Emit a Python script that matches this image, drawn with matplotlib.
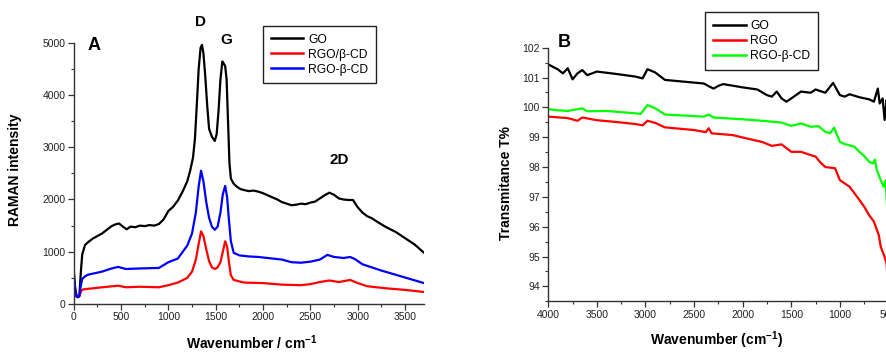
import matplotlib
matplotlib.use('Agg')
import matplotlib.pyplot as plt
from matplotlib.ticker import MultipleLocator

plt.rcParams['font.family'] = ['Liberation Sans', 'DejaVu Sans']
plt.rcParams['mathtext.fontset'] = 'custom'
plt.rcParams['mathtext.rm'] = 'Liberation Sans'
plt.rcParams['mathtext.bf'] = 'Liberation Sans:bold'

# Raman spectra (panel A)
go_raman_x = [0, 15, 30, 45, 60, 75, 90, 120, 150, 200, 250, 300, 350, 400, 450, 480, 520, 560,
              600, 650, 700, 750, 800, 850, 900, 950, 1000, 1050, 1100, 1150, 1200, 1230, 1260,
              1280, 1300, 1320, 1340, 1355, 1370, 1390, 1410, 1430, 1460, 1490, 1510, 1530, 1550,
              1570, 1585, 1600, 1615, 1630, 1645, 1660, 1690, 1720, 1760, 1800, 1850, 1900, 1950,
              2000, 2050, 2100, 2150, 2200, 2250, 2300, 2350, 2400, 2450, 2500, 2550, 2600, 2650,
              2700, 2750, 2800, 2850, 2900, 2950, 3000, 3050, 3100, 3150, 3200, 3300, 3400, 3500,
              3600, 3700]
go_raman_y = [650, 300, 150, 140, 160, 600, 950, 1130, 1180, 1250, 1300, 1350, 1420, 1490, 1530,
              1540, 1480, 1430, 1480, 1470, 1500, 1490, 1510, 1500, 1530, 1620, 1780, 1860, 1980,
              2150, 2350, 2550, 2800, 3150, 3800, 4500, 4900, 4960, 4800, 4350, 3800, 3350, 3200,
              3120, 3250, 3700, 4300, 4640, 4600, 4550, 4300, 3500, 2700, 2400, 2300, 2250, 2200,
              2180, 2160, 2170, 2150, 2120, 2080, 2040, 2000, 1950, 1920, 1890, 1900, 1920, 1910,
              1940, 1960, 2020, 2080, 2130, 2090, 2020, 2000, 1990, 1990, 1850, 1750, 1680, 1640,
              1580, 1470, 1380, 1260, 1140, 980]

rgo_cd_x = [0, 15, 30, 45, 60, 80, 100, 200, 300, 470, 550, 700, 900, 1000, 1100, 1200, 1250,
            1290, 1320, 1345, 1370, 1400, 1430, 1460, 1490, 1520, 1550, 1575, 1600, 1620, 1640,
            1660, 1690, 1800, 2000, 2200, 2400, 2500, 2600, 2700, 2800, 2920, 3000, 3100, 3300,
            3500, 3700]
rgo_cd_y = [450, 250, 140, 130, 150, 250, 280, 300, 320, 350, 320, 330, 320, 360, 410, 500, 620,
            850, 1150, 1390, 1300, 1050, 820, 700, 670, 700, 800, 1000, 1200, 1100, 800, 550, 460,
            410, 400, 370, 360, 380, 420, 450, 420, 460, 400, 340, 300, 270, 230]

rgo_b_cd_x = [0, 15, 30, 45, 60, 75, 90, 120, 150, 200, 300, 400, 470, 550, 700, 900, 1000, 1100,
              1200, 1250, 1290, 1320, 1345, 1370, 1400, 1430, 1460, 1490, 1520, 1550, 1575, 1600,
              1620, 1640, 1660, 1690, 1750, 1850, 1950, 2050, 2200, 2300, 2400, 2500, 2600, 2680,
              2750, 2850, 2920, 2970, 3050, 3150, 3250, 3400, 3550, 3700]
rgo_b_cd_y = [600, 300, 140, 130, 150, 350, 480, 530, 560, 580, 620, 680, 710, 670, 680, 690, 800,
              870, 1120, 1350, 1750, 2250, 2550, 2350, 1950, 1650, 1480, 1420, 1480, 1750, 2100,
              2260, 2050, 1600, 1200, 980, 930, 910, 900, 880, 850, 800, 790, 810, 850, 940, 900,
              880, 900, 860, 760, 700, 640, 560, 480, 400]

# FTIR spectra (panel B)
go_ftir_x = [4000, 3900, 3850, 3800, 3750, 3700, 3650, 3600, 3500, 3300, 3100, 3030, 2980, 2900,
             2800, 2600, 2400, 2350, 2300, 2250, 2200, 2000, 1850, 1750, 1700, 1650, 1600, 1550,
             1500, 1400, 1300, 1250, 1150, 1070, 1000, 950, 900, 800, 700, 650, 610, 590, 560,
             540, 520, 500]
go_ftir_y = [101.44, 101.27, 101.14, 101.31, 100.94, 101.14, 101.25, 101.08, 101.2, 101.12, 101.03,
             100.97, 101.28, 101.17, 100.92, 100.86, 100.8, 100.71, 100.63, 100.72, 100.78, 100.67,
             100.6, 100.41, 100.36, 100.53, 100.3, 100.19, 100.3, 100.53, 100.49, 100.6, 100.49,
             100.82, 100.41, 100.36, 100.44, 100.34, 100.27, 100.19, 100.63, 100.13, 100.3, 99.58,
             100.25, 100.02]

rgo_ftir_x = [4000, 3800, 3700, 3650, 3500, 3300, 3100, 3030, 2980, 2900, 2800, 2500, 2380, 2350,
              2320, 2100, 2000, 1800, 1700, 1600, 1500, 1400, 1300, 1250, 1200, 1150, 1050, 1000,
              900, 800, 750, 700, 650, 620, 600, 580, 560, 540, 520, 510, 500]
rgo_ftir_y = [99.69, 99.64, 99.55, 99.66, 99.57, 99.51, 99.44, 99.4, 99.55, 99.48, 99.33, 99.24,
              99.17, 99.3, 99.13, 99.07, 98.99, 98.84, 98.71, 98.76, 98.51, 98.51, 98.4, 98.35,
              98.15, 98.0, 97.96, 97.56, 97.34, 96.9, 96.67, 96.39, 96.17, 95.9, 95.72, 95.33,
              95.16, 94.99, 94.77, 94.32, 94.1]

rgo_b_cd_ftir_x = [4000, 3900, 3800, 3650, 3600, 3400, 3100, 3050, 2980, 2900, 2800, 2400, 2350,
                   2300, 2000, 1800, 1600, 1500, 1400, 1300, 1220, 1150, 1100, 1060, 1000, 950,
                   850, 800, 750, 700, 660, 640, 620, 580, 550, 530, 515, 505, 500]
rgo_b_cd_ftir_y = [99.94, 99.9, 99.88, 99.97, 99.87, 99.88, 99.8, 99.78, 100.08, 99.97, 99.76,
                   99.69, 99.76, 99.66, 99.6, 99.55, 99.49, 99.38, 99.46, 99.35, 99.37, 99.18,
                   99.13, 99.32, 98.84, 98.77, 98.68, 98.51, 98.37, 98.18, 98.12, 98.25, 97.9,
                   97.56, 97.34, 97.55, 96.67, 97.0, 96.9]

W, H = 887, 352
fig = plt.figure(figsize=(W / 100, H / 100), dpi=100)


def style_axes(ax):
    for side in ['top', 'right']:
        ax.spines[side].set_visible(False)
    for side in ['left', 'bottom']:
        ax.spines[side].set_color('#333333')
        ax.spines[side].set_linewidth(1.0)
    ax.tick_params(which='major', direction='out', length=4, width=0.9, colors='#333333',
                   labelsize=7.5, labelcolor='#222222', pad=2)
    ax.tick_params(which='minor', direction='out', length=2.5, width=0.8, colors='#333333')


def add_legend(ax, anchor):
    leg = ax.legend(loc='upper left', bbox_to_anchor=anchor, borderaxespad=0,
                    fontsize=8.7, handlelength=2.7, handletextpad=0.4, labelspacing=0.25,
                    borderpad=0.65, fancybox=False, framealpha=1, edgecolor='#222222')
    leg.get_frame().set_linewidth(1.0)
    for line in leg.get_lines():
        line.set_linewidth(1.8)
    return leg


# panel A
axA = fig.add_axes([73.7 / W, 1 - 304 / H, (424 - 73.7) / W, (304 - 42.7) / H])
style_axes(axA)
axA.plot(go_raman_x, go_raman_y, color='black', lw=1.6, label='GO')
axA.plot(rgo_cd_x, rgo_cd_y, color='#ff0000', lw=1.6, label='RGO/β-CD')
axA.plot(rgo_b_cd_x, rgo_b_cd_y, color='#0000ff', lw=1.6, label='RGO-β-CD')
axA.set_xlim(0, 3700)
axA.set_ylim(0, 5000)
axA.xaxis.set_major_locator(MultipleLocator(500))
axA.xaxis.set_minor_locator(MultipleLocator(250))
axA.yaxis.set_major_locator(MultipleLocator(1000))
axA.yaxis.set_minor_locator(MultipleLocator(500))
axA.set_ylabel('RAMAN intensity', fontsize=10, fontweight='bold')
axA.yaxis.set_label_coords(-0.147, 0.513)
axA.set_xlabel(r'Wavenumber / cm$^{\mathbf{-1}}$', fontsize=10, fontweight='bold')
axA.xaxis.set_label_coords(0.509, -0.112)
axA.text(0.058, 0.99, 'A', transform=axA.transAxes, fontsize=13, fontweight='bold',
         ha='center', va='center')
axA.text(1344, 5390, 'D', fontsize=11, fontweight='bold', ha='center', va='center')
axA.text(1608, 5050, 'G', fontsize=11, fontweight='bold', ha='center', va='center')
axA.text(2800, 2753, '2D', fontsize=11, fontweight='bold', ha='center', va='center')
add_legend(axA, (0.540, 1.065))

# panel B
axB = fig.add_axes([548.3 / W, 1 - 301.3 / H, (888.5 - 548.3) / W, (301.3 - 47.7) / H])
style_axes(axB)
axB.plot(go_ftir_x, go_ftir_y, color='black', lw=1.6, label='GO')
axB.plot(rgo_ftir_x, rgo_ftir_y, color='#ff0000', lw=1.6, label='RGO')
axB.plot(rgo_b_cd_ftir_x, rgo_b_cd_ftir_y, color='#00ff00', lw=1.6, label='RGO-β-CD')
axB.set_xlim(4000, 500)
axB.set_ylim(93.5, 102)
axB.xaxis.set_major_locator(MultipleLocator(500))
axB.xaxis.set_minor_locator(MultipleLocator(250))
axB.yaxis.set_major_locator(MultipleLocator(1))
axB.yaxis.set_minor_locator(MultipleLocator(0.5))
axB.set_ylabel('Transmitance T%', fontsize=10, fontweight='bold')
axB.yaxis.set_label_coords(-0.104, 0.466)
axB.set_xlabel(r'Wavenumber (cm$^{\mathbf{-1}}$)', fontsize=10, fontweight='bold')
axB.xaxis.set_label_coords(0.495, -0.112)
axB.text(0.046, 1.02, 'B', transform=axB.transAxes, fontsize=13, fontweight='bold',
         ha='center', va='center')
add_legend(axB, (0.461, 1.141))

fig.savefig('out.png', dpi=100)
